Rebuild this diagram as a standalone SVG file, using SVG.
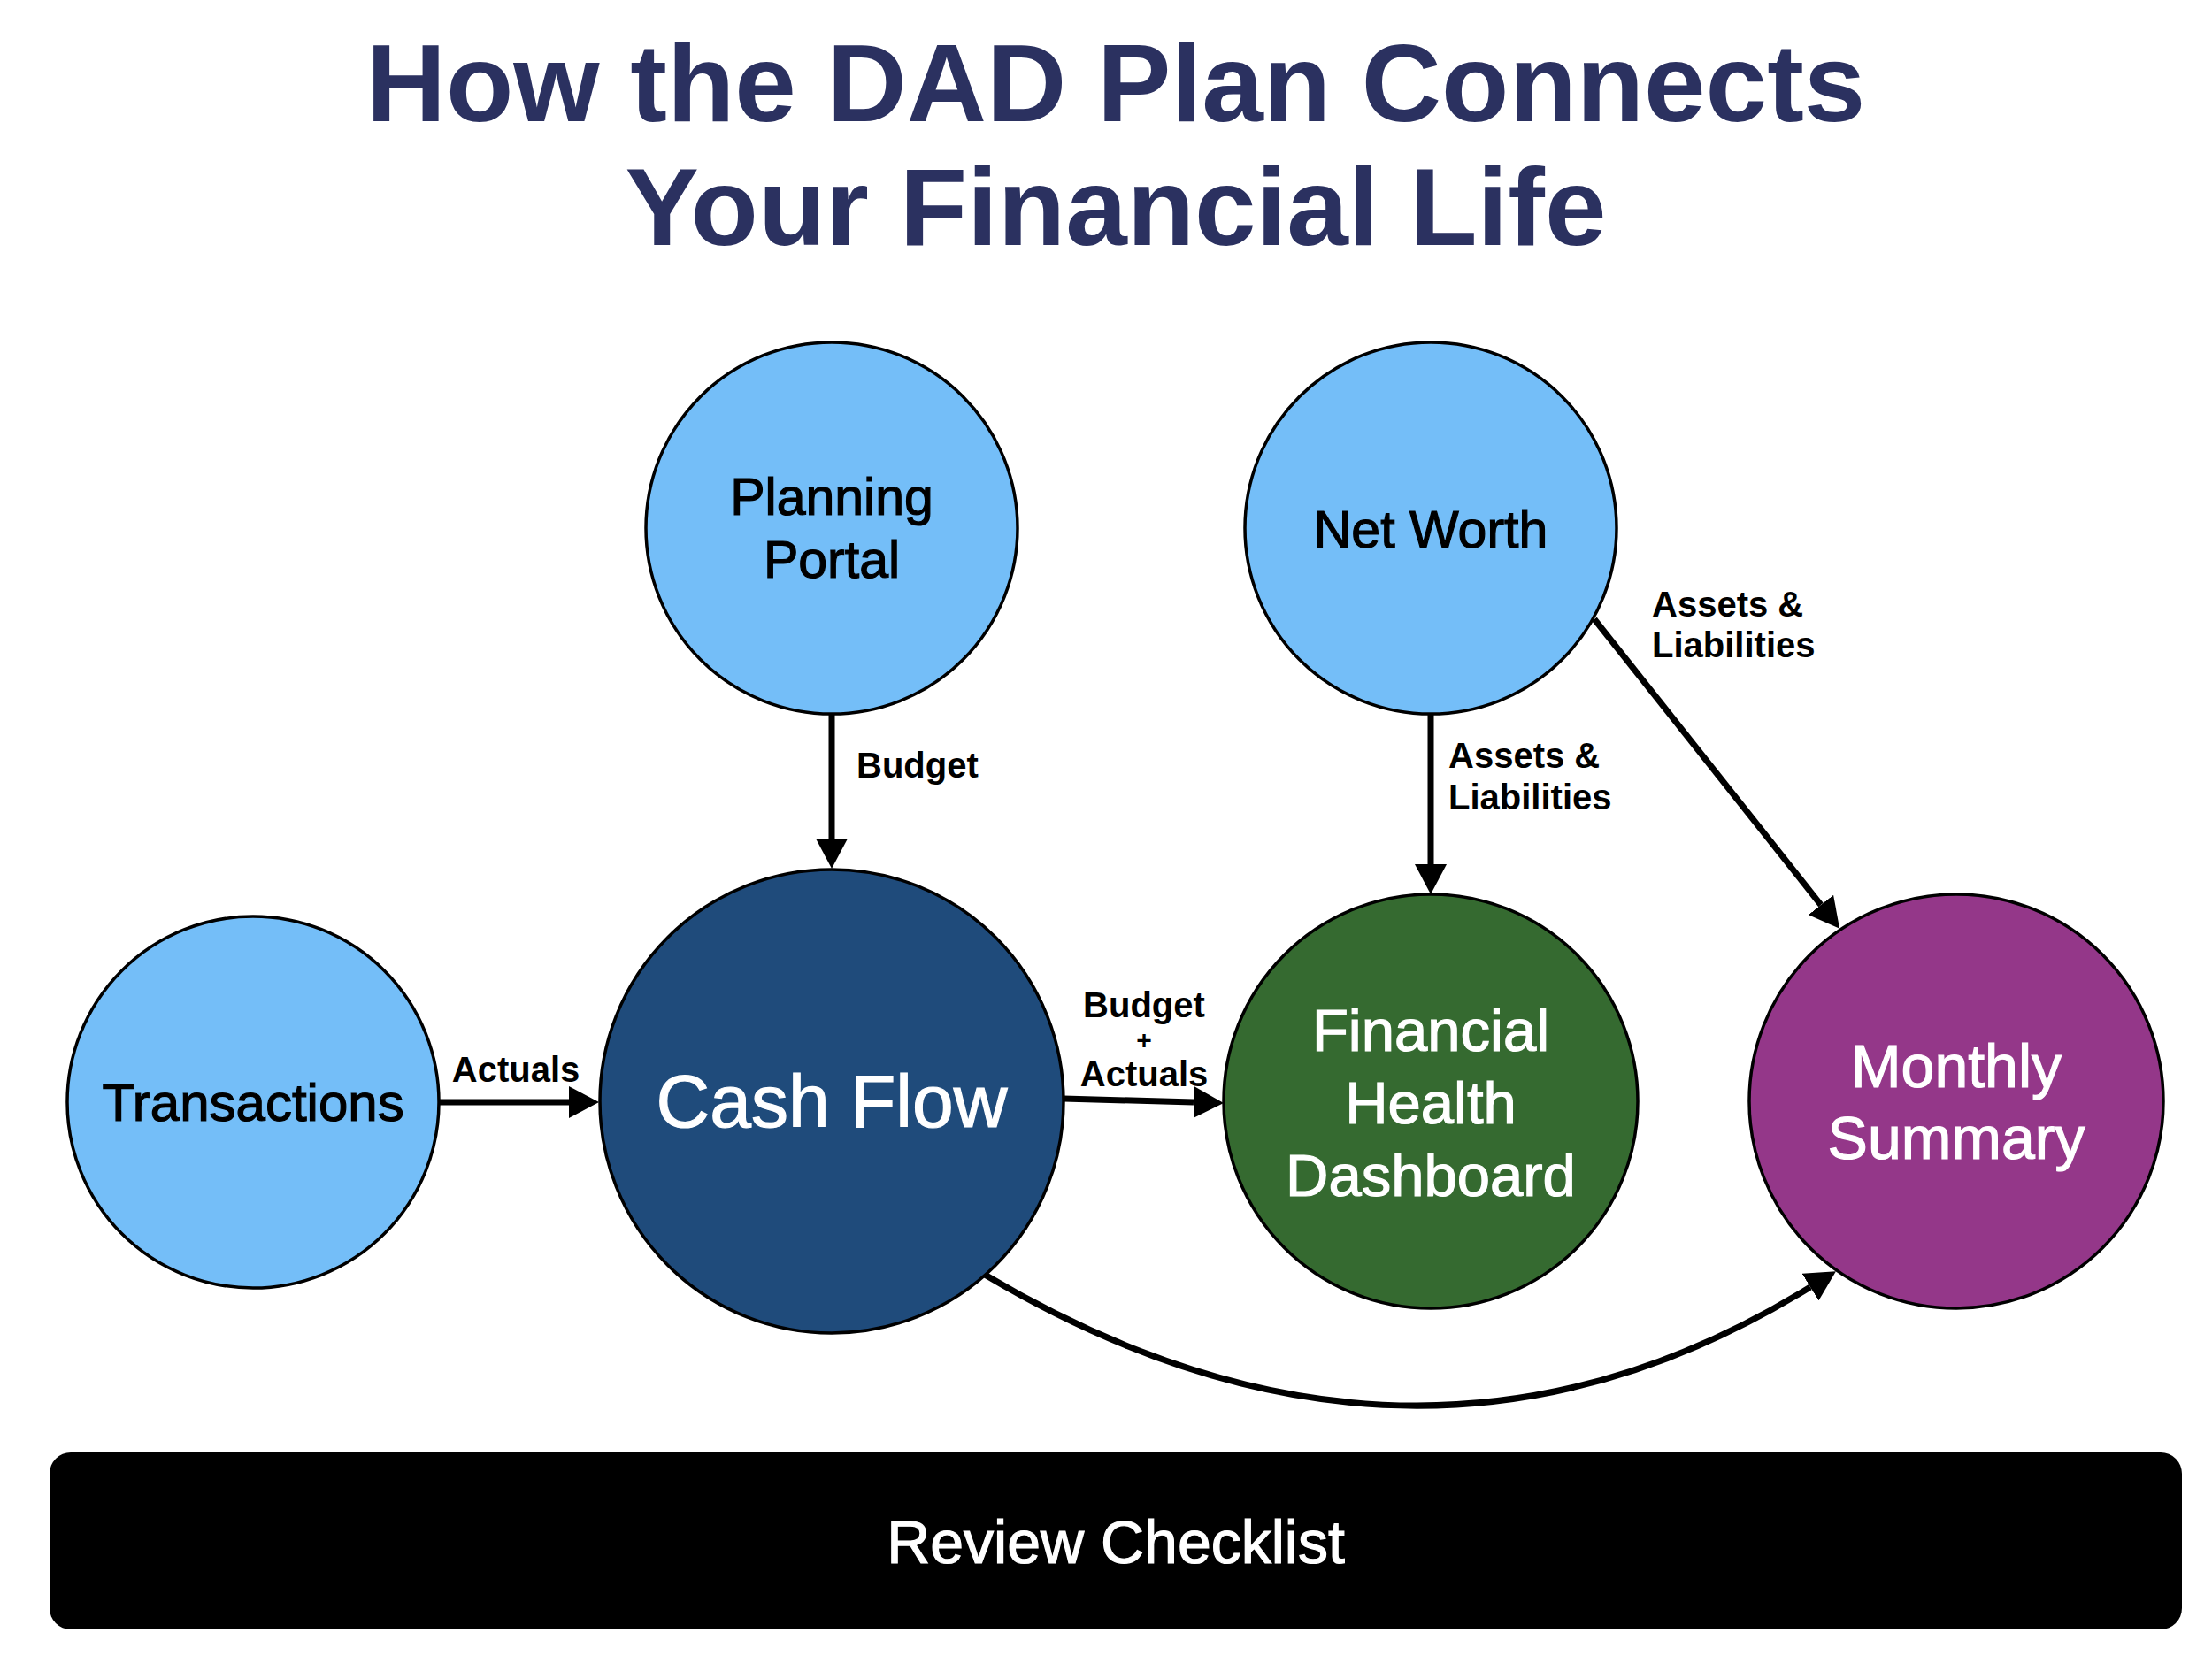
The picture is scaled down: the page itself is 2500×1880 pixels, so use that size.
<svg xmlns="http://www.w3.org/2000/svg" width="2500" height="1880" viewBox="0 0 2500 1880">
<style>
.title{font-family:"Liberation Sans",Arial,sans-serif;font-weight:bold;font-size:125px;fill:#2b3160;text-anchor:middle}
.node{stroke:#000;stroke-width:3.5}
.lbl{font-family:"Liberation Sans",Arial,sans-serif;font-size:59px;text-anchor:middle;stroke-width:1.2}
.dark{fill:#000;stroke:#000}
.light{fill:#fff;stroke:#fff}
.edge{fill:none;stroke:#000;stroke-width:7;marker-end:url(#arr)}
.elbl{font-family:"Liberation Sans",Arial,sans-serif;font-weight:bold;font-size:40px;fill:#000}
</style>
<defs>
<marker id="arr" markerUnits="userSpaceOnUse" markerWidth="36" markerHeight="36" refX="0" refY="18" orient="auto" viewBox="0 0 36 36">
<path d="M0,0 L34,18 L0,36 Z" fill="#000"/>
</marker>
</defs>
<rect width="2500" height="1880" fill="#fff"/>
<g id="title">
<text class="title" x="1261" y="137">How the DAD Plan Connects</text>
<text class="title" x="1261" y="277">Your Financial Life</text>
</g>
<g id="connectors">
<path class="edge" d="M940,807 L940,948"/>
<path class="edge" d="M1617,807 L1617,977"/>
<path class="edge" d="M1802,700 L2058,1023"/>
<path class="edge" d="M496,1246 L643,1246"/>
<path class="edge" d="M1202,1242 L1349,1246"/>
<path class="edge" d="M1113,1441 Q1600,1730 2046,1455"/>
<text class="elbl" x="968" y="879">Budget</text>
<text class="elbl" x="1637" y="868">Assets &amp;</text>
<text class="elbl" x="1637" y="915">Liabilities</text>
<text class="elbl" x="1867" y="697">Assets &amp;</text>
<text class="elbl" x="1867" y="743">Liabilities</text>
<text class="elbl" x="583" y="1223" text-anchor="middle">Actuals</text>
<text class="elbl" x="1293" y="1150" text-anchor="middle">Budget</text>
<text class="elbl" x="1293" y="1186" text-anchor="middle" style="font-size:30px">+</text>
<text class="elbl" x="1293" y="1228" text-anchor="middle">Actuals</text>
</g>
<g id="planning-portal">
<circle class="node" cx="940" cy="597" r="210" fill="#74bef8"/>
<text class="lbl dark" x="940" y="582">Planning</text>
<text class="lbl dark" x="940" y="653">Portal</text>
</g>
<g id="net-worth">
<circle class="node" cx="1617" cy="597" r="210" fill="#74bef8"/>
<text class="lbl dark" x="1617" y="619">Net Worth</text>
</g>
<g id="transactions">
<circle class="node" cx="286" cy="1246" r="210" fill="#74bef8"/>
<text class="lbl dark" x="286" y="1267" style="font-size:60px">Transactions</text>
</g>
<g id="cash-flow">
<circle class="node" cx="940" cy="1245" r="262" fill="#1f4b7b"/>
<text class="lbl light" x="940" y="1274" style="font-size:84px">Cash Flow</text>
</g>
<g id="financial-health-dashboard">
<circle class="node" cx="1617" cy="1245" r="234" fill="#356a30"/>
<text class="lbl light" x="1617" y="1188" style="font-size:67px">Financial</text>
<text class="lbl light" x="1617" y="1270" style="font-size:67px">Health</text>
<text class="lbl light" x="1617" y="1352" style="font-size:67px">Dashboard</text>
</g>
<g id="monthly-summary">
<circle class="node" cx="2211" cy="1245" r="234" fill="#943789"/>
<text class="lbl light" x="2211" y="1229" style="font-size:68px">Monthly</text>
<text class="lbl light" x="2211" y="1310" style="font-size:68px">Summary</text>
</g>
<g id="review-checklist">
<rect x="56" y="1642" width="2410" height="200" rx="24" fill="#000"/>
<text class="lbl light" x="1261" y="1767" style="font-size:68px">Review Checklist</text>
</g>
</svg>
